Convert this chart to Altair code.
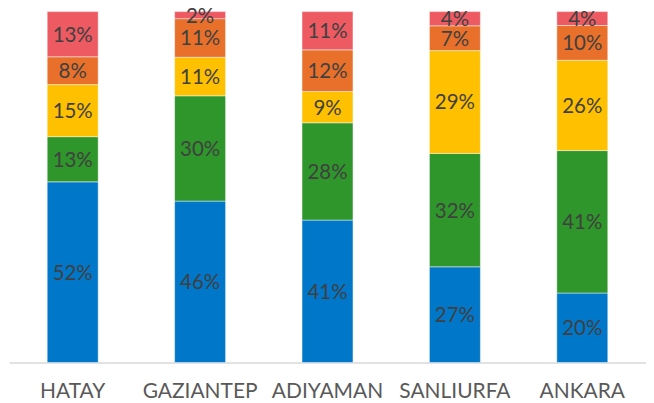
import altair as alt
import pandas as pd

cities = ["HATAY", "GAZIANTEP", "ADIYAMAN", "SANLIURFA", "ANKARA"]
segments = ["s1", "s2", "s3", "s4", "s5"]
colors = ["#0077c8", "#2e962a", "#ffc000", "#e8702a", "#ee5a62"]
s1 = [52, 46, 41, 27, 20]
s2 = [13, 30, 28, 32, 41]
s3 = [15, 11, 9, 29, 26]
s4 = [8, 11, 12, 7, 10]
s5 = [13, 2, 11, 4, 4]

series = [s1, s2, s3, s4, s5]
rows = []
for si, (seg, vals) in enumerate(zip(segments, series)):
    for ci, city in enumerate(cities):
        rows.append({"city": city, "seg": seg, "order": si, "value": vals[ci],
                     "label": f"{vals[ci]}%"})
df = pd.DataFrame(rows)

FONT = "Lato"

base = alt.Chart(df).transform_stack(
    stack="value", groupby=["city"], as_=["v0", "v1"],
    sort=[alt.SortField("order", order="ascending")], offset="normalize"
).transform_calculate(mid="(datum.v0 + datum.v1) / 2")

x = alt.X("city:N", sort=cities, title=None,
          scale=alt.Scale(paddingInner=0.6, paddingOuter=0.3),
          axis=alt.Axis(labelAngle=0, ticks=False, grid=False, domainColor="#d9d9d9",
                        domainWidth=1.3, labelFont=FONT, labelFontSize=21,
                        labelColor="#595959", labelPadding=18))

bars = base.mark_bar(stroke="#ffffff", strokeOpacity=0.45, strokeWidth=1).encode(
    x=x,
    y=alt.Y("v0:Q", scale=alt.Scale(domain=[0, 1]), axis=None),
    y2="v1:Q",
    color=alt.Color("seg:N", scale=alt.Scale(domain=segments, range=colors), legend=None),
)

labels = base.mark_text(font=FONT, fontSize=20.5, color="#404040", baseline="middle",
                        dy=1.5).encode(
    x=alt.X("city:N", sort=cities),
    y=alt.Y("mid:Q", scale=alt.Scale(domain=[0, 1])),
    text="label:N",
)

chart = (bars + labels).properties(
    width=639, height=352,
    autosize=alt.AutoSizeParams(type="none"),
    padding={"left": 1, "top": 3, "right": 0, "bottom": 40},
).configure_view(stroke=None)

chart.save("out.html", embed_options={"renderer": "svg", "actions": False})
